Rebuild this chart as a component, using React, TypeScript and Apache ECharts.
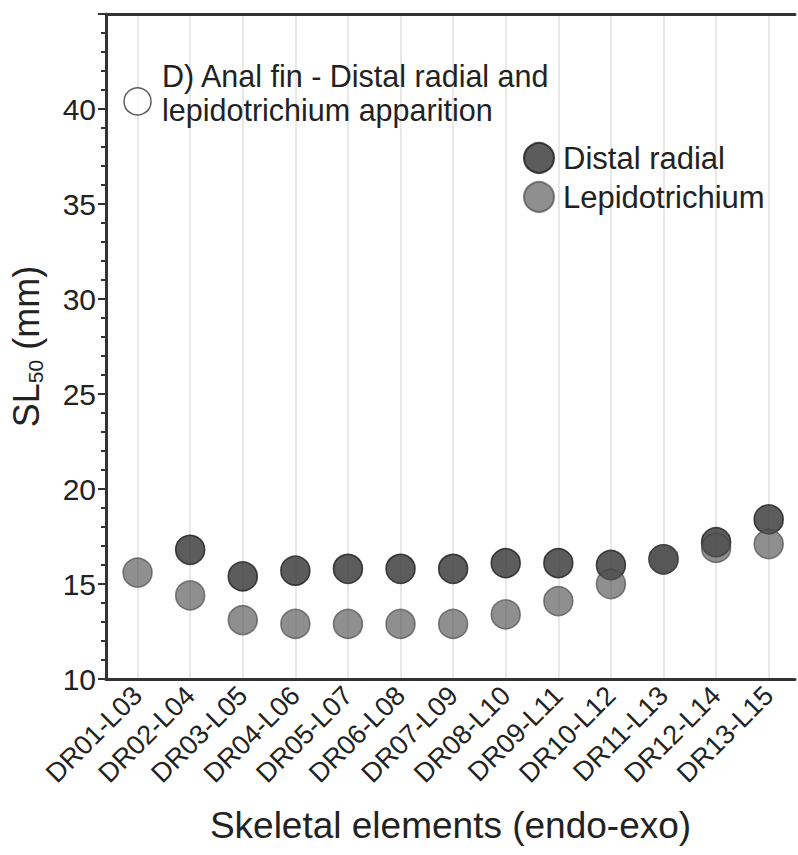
import React, { useEffect, useRef } from "react";
import * as echarts from "echarts";

// Skeletal element pairs (endoskeletal distal radial - exoskeletal lepidotrichium)
const categories = [
  "DR01-L03", "DR02-L04", "DR03-L05", "DR04-L06", "DR05-L07", "DR06-L08", "DR07-L09",
  "DR08-L10", "DR09-L11", "DR10-L12", "DR11-L13", "DR12-L14", "DR13-L15",
];

// SL50 (mm) at which each element appears
const distalRadial = [null, 16.8, 15.4, 15.7, 15.8, 15.8, 15.8, 16.1, 16.1, 16.0, 16.3, 17.2, 18.4];
const lepidotrichium = [15.6, 14.4, 13.1, 12.9, 12.9, 12.9, 12.9, 13.4, 14.1, 15.0, 16.3, 16.9, 17.1];

// Open marker next to the panel heading, placed at the first element
const panelMarker = [40.4];

const yTicks = { min: 10, max: 45, interval: 5 };
const categoryPositions = categories.map((_, i) => i + 1);

const FONT = "'Liberation Sans', Arial, Helvetica, sans-serif";
const INK = "#222";

const toPoints = (values: (number | null)[]) =>
  values.map((v, i) => [i + 1, v === null ? null : v]).filter((p) => p[1] !== null);

export default function App() {
  const ref = useRef<HTMLDivElement>(null);

  useEffect(() => {
    if (!ref.current) return;
    const chart = echarts.init(ref.current, undefined, { renderer: "svg" });
    chart.setOption({
      animation: false,
      backgroundColor: "#fff",
      textStyle: { fontFamily: FONT },
      title: {
        text: "D) Anal fin - Distal radial and\nlepidotrichium apparition",
        left: 162,
        top: 59,
        padding: 0,
        textStyle: { fontFamily: FONT, fontSize: 30.5, fontWeight: "normal", color: INK, lineHeight: 34 },
      },
      legend: {
        data: ["Distal radial", "Lepidotrichium"],
        orient: "vertical",
        left: 523,
        top: 142,
        padding: 0,
        itemWidth: 30,
        itemHeight: 30,
        itemGap: 7,
        icon: "circle",
        textStyle: { fontFamily: FONT, fontSize: 31, color: INK, padding: [0, 0, 0, 4] },
      },
      grid: { left: 106, right: 3, top: 14, bottom: 176, containLabel: false },
      xAxis: [
        {
          type: "value",
          min: 0.4,
          max: 13.5,
          name: "Skeletal elements (endo-exo)",
          nameLocation: "middle",
          nameGap: 128,
          nameTextStyle: { fontFamily: FONT, fontSize: 37, color: INK },
          axisLine: { show: true, onZero: false, lineStyle: { color: "#333", width: 3 } },
          axisTick: { show: false, customValues: categoryPositions },
          splitLine: { show: true, lineStyle: { color: "#e8e8e8", width: 2 } },
          axisLabel: {
            customValues: categoryPositions,
            rotate: 45,
            margin: 12,
            fontFamily: FONT,
            fontSize: 27,
            color: INK,
            formatter: (v: number) => categories[Math.round(v) - 1] ?? "",
          },
        },
        {
          type: "value",
          position: "top",
          min: 0.4,
          max: 13.5,
          axisLine: { show: true, onZero: false, lineStyle: { color: "#333", width: 3 } },
          axisTick: { show: false },
          axisLabel: { show: false },
          splitLine: { show: false },
        },
      ],
      yAxis: {
        type: "value",
        min: yTicks.min,
        max: yTicks.max,
        interval: yTicks.interval,
        name: "{a|SL}{b|50}{a| (mm)}",
        nameLocation: "middle",
        nameGap: 60,
        nameRotate: 90,
        nameTextStyle: {
          rich: {
            a: { fontFamily: FONT, fontSize: 36, color: INK, lineHeight: 40, verticalAlign: "middle" },
            b: { fontFamily: FONT, fontSize: 21, color: INK, lineHeight: 40, verticalAlign: "bottom", padding: [12, 0, 0, 0] },
          },
        },
        axisLine: { show: true, onZero: false, lineStyle: { color: "#333", width: 3 } },
        axisTick: { show: true, length: 8, lineStyle: { color: "#333", width: 2 } },
        minorTick: { show: true, splitNumber: 5, length: 5, lineStyle: { color: "#333", width: 2 } },
        splitLine: { show: false },
        axisLabel: {
          showMaxLabel: false,
          margin: 10,
          fontFamily: FONT,
          fontSize: 30,
          color: INK,
        },
      },
      series: [
        {
          name: "Panel marker",
          type: "scatter",
          data: panelMarker.map((v) => [1, v]),
          symbol: "circle",
          symbolSize: 27,
          itemStyle: { color: "#fff", borderColor: "#333", borderWidth: 1.5 },
          silent: true,
        },
        {
          name: "Distal radial",
          type: "scatter",
          data: toPoints(distalRadial),
          symbol: "circle",
          symbolSize: 29,
          itemStyle: { color: "#333", borderColor: "#1a1a1a", borderWidth: 1.5 },
        },
        {
          name: "Lepidotrichium",
          type: "scatter",
          data: toPoints(lepidotrichium),
          symbol: "circle",
          symbolSize: 29,
          itemStyle: { color: "#555", borderColor: "#444", borderWidth: 1.5, opacity: 0.66 },
        },
      ],
    });
    return () => chart.dispose();
  }, []);

  return (
    <div
      ref={ref}
      style={{ position: "absolute", left: 0, top: 0, width: 798, height: 855, background: "#fff" }}
    />
  );
}
